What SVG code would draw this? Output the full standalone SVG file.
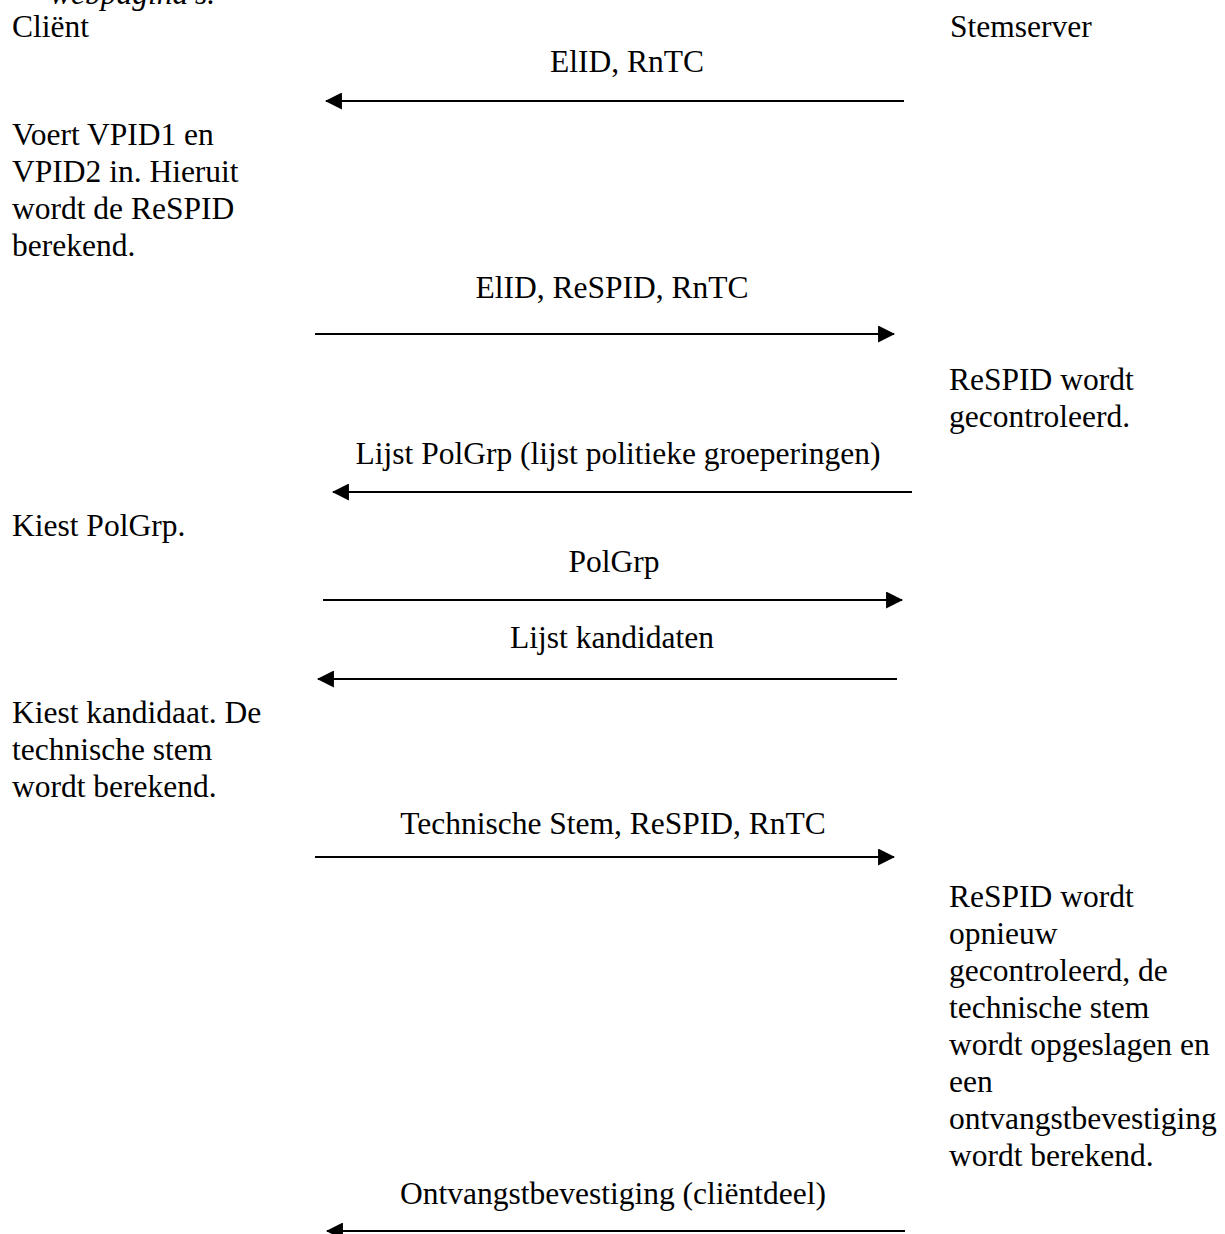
<svg xmlns="http://www.w3.org/2000/svg" width="1225" height="1234" viewBox="0 0 1225 1234">
<style>
text{font-family:"Liberation Serif","Times New Roman",serif;font-size:31.5px;fill:#000}
.c{text-anchor:middle}
.it{font-style:italic}
.msg{stroke:#000;stroke-width:2.2;fill:none}
</style>
<defs>
<marker id="ah" markerUnits="userSpaceOnUse" markerWidth="17" markerHeight="17" viewBox="0 0 16 16" refX="15" refY="8" orient="auto">
<path d="M0,0 L16,8 L0,16 z" fill="#000"/>
</marker>
</defs>
<rect width="1225" height="1234" fill="#fff"/>
<g id="header-note"><text class="it" x="50" y="4">webpagina's.</text></g>
<g id="client"><text x="12" y="37">Cliënt</text></g>
<g id="server"><text x="950" y="37">Stemserver</text></g>
<g id="client-step1">
<text x="12" y="145">Voert VPID1 en</text>
<text x="12" y="182">VPID2 in. Hieruit</text>
<text x="12" y="219">wordt de ReSPID</text>
<text x="12" y="256">berekend.</text>
</g>
<g id="server-step1">
<text x="949" y="390">ReSPID wordt</text>
<text x="949" y="427">gecontroleerd.</text>
</g>
<g id="client-step2"><text x="12" y="536">Kiest PolGrp.</text></g>
<g id="client-step3">
<text x="12" y="723">Kiest kandidaat. De</text>
<text x="12" y="760">technische stem</text>
<text x="12" y="797">wordt berekend.</text>
</g>
<g id="server-step2">
<text x="949" y="907">ReSPID wordt</text>
<text x="949" y="944">opnieuw</text>
<text x="949" y="981">gecontroleerd, de</text>
<text x="949" y="1018">technische stem</text>
<text x="949" y="1055">wordt opgeslagen en</text>
<text x="949" y="1092">een</text>
<text x="949" y="1129">ontvangstbevestiging</text>
<text x="949" y="1166">wordt berekend.</text>
</g>
<g id="connectors">
<line class="msg" x1="904" y1="101" x2="326" y2="101" marker-end="url(#ah)"/>
<text class="c" x="627" y="72">ElID, RnTC</text>
<line class="msg" x1="315" y1="334" x2="894" y2="334" marker-end="url(#ah)"/>
<text class="c" x="612" y="298">ElID, ReSPID, RnTC</text>
<line class="msg" x1="912" y1="492" x2="333" y2="492" marker-end="url(#ah)"/>
<text class="c" x="618" y="464">Lijst PolGrp (lijst politieke groeperingen)</text>
<line class="msg" x1="323" y1="600" x2="902" y2="600" marker-end="url(#ah)"/>
<text class="c" x="614" y="572">PolGrp</text>
<line class="msg" x1="897" y1="679" x2="318" y2="679" marker-end="url(#ah)"/>
<text class="c" x="612" y="648">Lijst kandidaten</text>
<line class="msg" x1="315" y1="857" x2="894" y2="857" marker-end="url(#ah)"/>
<text class="c" x="613" y="834">Technische Stem, ReSPID, RnTC</text>
<line class="msg" x1="905" y1="1231" x2="327" y2="1231" marker-end="url(#ah)"/>
<text class="c" x="613" y="1204">Ontvangstbevestiging (cliëntdeel)</text>
</g>
</svg>
